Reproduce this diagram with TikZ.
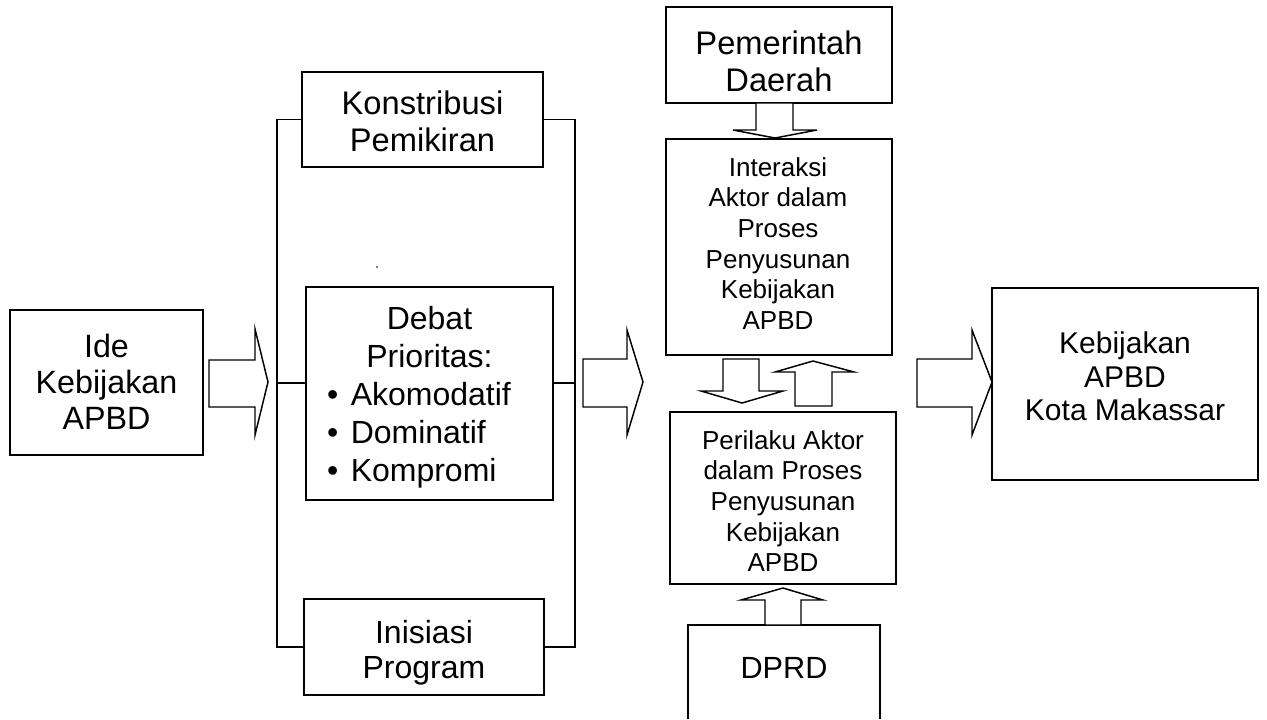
\documentclass[tikz,border=0pt]{standalone}
\usepackage{fontspec}
\setmainfont{Liberation Sans}
\usetikzlibrary{fit}

\begin{document}
\begin{tikzpicture}[x=0.75pt,y=-0.75pt,
  box/.style={draw, line width=1.4pt, inner sep=0pt},
  label/.style={align=center, inner sep=0pt},
  bigtext/.style={font=\fontsize{24.2}{27}\selectfont},
  midtext/.style={font=\fontsize{22.5}{25}\selectfont},
  smalltext/.style={font=\fontsize{19.5}{23}\selectfont},
  link/.style={line width=1.1pt},
  blockarrow/.style={draw, fill=white, line width=1.1pt, line join=miter}]

\useasboundingbox[fill=white] (0,0) rectangle (1267,719);

% input
\node[box, fit={(10,310) (203,455)}] (ide) {};
\node[label, bigtext] (idetext) at (106.5,381.5) {Ide\\Kebijakan\\APBD};

% the three inputs of the debate stage
\node[box, fit={(302,72) (543,167)}] (konst) {};
\node[label, font=\fontsize{24.5}{27.75}\selectfont] (konsttext) at (422.5,121.5) {Konstribusi\\Pemikiran};
\node[box, fit={(306,287) (553,500)}] (debat) {};
\node[label, font=\fontsize{24}{28.5}\selectfont] (debattext) at (429.5,397)
  {Debat\\Prioritas:\\
   \makebox[6.4em][l]{\makebox[0.74em][l]{•}Akomodatif}\\
   \makebox[6.4em][l]{\makebox[0.74em][l]{•}Dominatif}\\
   \makebox[6.4em][l]{\makebox[0.74em][l]{•}Kompromi}};
\node[box, fit={(304,599) (544,695)}] (inis) {};
\node[label, font=\fontsize{24}{26.5}\selectfont] (inistext) at (424,653) {Inisiasi\\Program};
\fill (377,267) circle[radius=0.9];

% bracket joining the three inputs
\coordinate (bracketL) at (277,0);
\coordinate (bracketR) at (575,0);
\coordinate (mid) at (0,383);
\draw[link] (konst.west) -- (bracketL |- konst.west) -- (bracketL |- inis.west) -- (inis.west);
\draw[link] (konst.east) -- (bracketR |- konst.east) -- (bracketR |- inis.east) -- (inis.east);
\draw[link] (debat.west |- mid) -- (bracketL |- mid);
\draw[link] (debat.east |- mid) -- (bracketR |- mid);

% actors
\node[box, fit={(666,7) (892,103)}] (pem) {};
\node[label, font=\fontsize{24.5}{27.75}\selectfont] (pemtext) at (779,61.5) {Pemerintah\\Daerah};
\node[box, fit={(666,139) (892,355)}] (inter) {};
\node[label, smalltext] (intertext) at (778,243.5)
  {Interaksi\\Aktor dalam\\Proses\\Penyusunan\\Kebijakan\\APBD};
\node[box, fit={(670,412) (896,584)}] (peril) {};
\node[label, smalltext] (periltext) at (783,501)
  {Perilaku Aktor\\dalam Proses\\Penyusunan\\Kebijakan\\APBD};
\node[label, font=\fontsize{23}{26}\selectfont] (dprd) at (784,668) {DPRD};
\draw[line width=1.4pt] (688,719) -- (688,625) -- (880,625) -- (880,719);

% output
\node[box, fit={(992,288) (1258,480)}] (hasil) {};
\node[label, midtext] (hasiltext) at (1125,376.5) {Kebijakan\\APBD\\Kota Makassar};

% block arrows
\draw[blockarrow] (209,360) -- (255,360) -- (255,329) -- (268,382) -- (255,435) -- (255,407) -- (209,407) -- cycle;
\draw[blockarrow] (583,359) -- (627,359) -- (627,330) -- (643,382) -- (627,435) -- (627,407) -- (583,407) -- cycle;
\draw[blockarrow] (917,359) -- (972,359) -- (972,330) -- (992,382) -- (972,435) -- (972,407) -- (917,407) -- cycle;
\draw[blockarrow] (756,103) -- (756,130) -- (733,130) -- (775,138) -- (817,130) -- (793,130) -- (793,103) -- cycle;
\draw[blockarrow] (723,359) -- (723,391) -- (701,391) -- (742,403) -- (783,391) -- (759,391) -- (759,359) -- cycle;
\draw[blockarrow] (795,406) -- (795,372) -- (775,372) -- (813,361) -- (854,372) -- (832,372) -- (832,406) -- cycle;
\draw[blockarrow] (765,625) -- (765,600) -- (741,600) -- (783,588) -- (823,600) -- (801,600) -- (801,625) -- cycle;
\end{tikzpicture}
\end{document}
